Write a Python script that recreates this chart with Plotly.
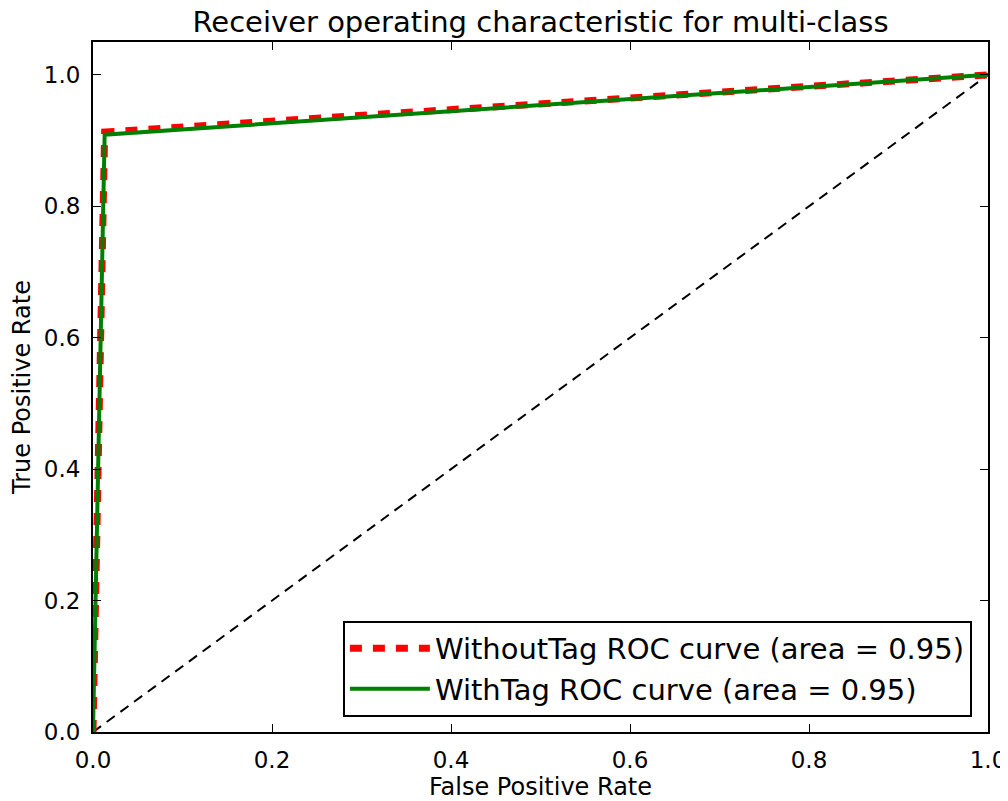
import plotly.graph_objects as go

fpr_without = [0.0, 0.013, 1.0]
tpr_without = [0.0, 0.913, 1.0]
fpr_with = [0.0, 0.013, 1.0]
tpr_with = [0.0, 0.909, 1.0]
chance = [0.0, 1.0]
label_without = "WithoutTag ROC curve (area = 0.95)"
label_with = "WithTag ROC curve (area = 0.95)"
ticks = [0.0, 0.2, 0.4, 0.6, 0.8, 1.0]

FONT = "DejaVu Sans"
W, H = 1000, 793  # page body has an 8px margin; figure runs to the window edge
fig = go.Figure()
fig.add_trace(go.Scatter(x=chance, y=chance, mode="lines", showlegend=False,
                         line=dict(color="black", width=2, dash="10px,7px")))
fig.add_trace(go.Scatter(x=fpr_without, y=tpr_without, mode="lines", name=label_without,
                         line=dict(color="red", width=7, dash="12px,11px")))
fig.add_trace(go.Scatter(x=fpr_with, y=tpr_with, mode="lines", name=label_with,
                         line=dict(color="green", width=4)))

axis_common = dict(showgrid=False, zeroline=False, ticks="inside", ticklen=8, tickwidth=1,
                   tickcolor="black", mirror="ticks", showline=True, linecolor="black",
                   linewidth=2, tickvals=ticks, tickformat=".1f", automargin=False,
                   ticklabeloverflow="allow",
                   tickfont=dict(family=FONT, size=23, color="black"))
fig.update_xaxes(range=[0, 1], ticklabelstandoff=6, title=dict(text="False Positive Rate",
                 font=dict(family=FONT, size=24, color="black"), standoff=10), **axis_common)
fig.update_yaxes(range=[0, 1.05], ticklabelstandoff=6, title=dict(text="True Positive Rate",
                 font=dict(family=FONT, size=24, color="black"), standoff=14), **axis_common)

fig.update_layout(
    width=W, height=H,
    margin=dict(l=85, r=20, t=34, b=69),
    paper_bgcolor="white", plot_bgcolor="white",
    title=dict(text="Receiver operating characteristic for multi-class", x=0.5, xref="paper",
               xanchor="center", y=1 - 14 / H, yref="container", yanchor="middle",
               font=dict(family=FONT, size=29, color="black")),
    legend=dict(x=0.982, y=0.022, xanchor="right", yanchor="bottom", bgcolor="white",
                bordercolor="black", borderwidth=2, font=dict(family=FONT, size=29, color="black"),
                tracegroupgap=0, itemwidth=80),
    showlegend=True,
)
fig.write_html("out.html")
